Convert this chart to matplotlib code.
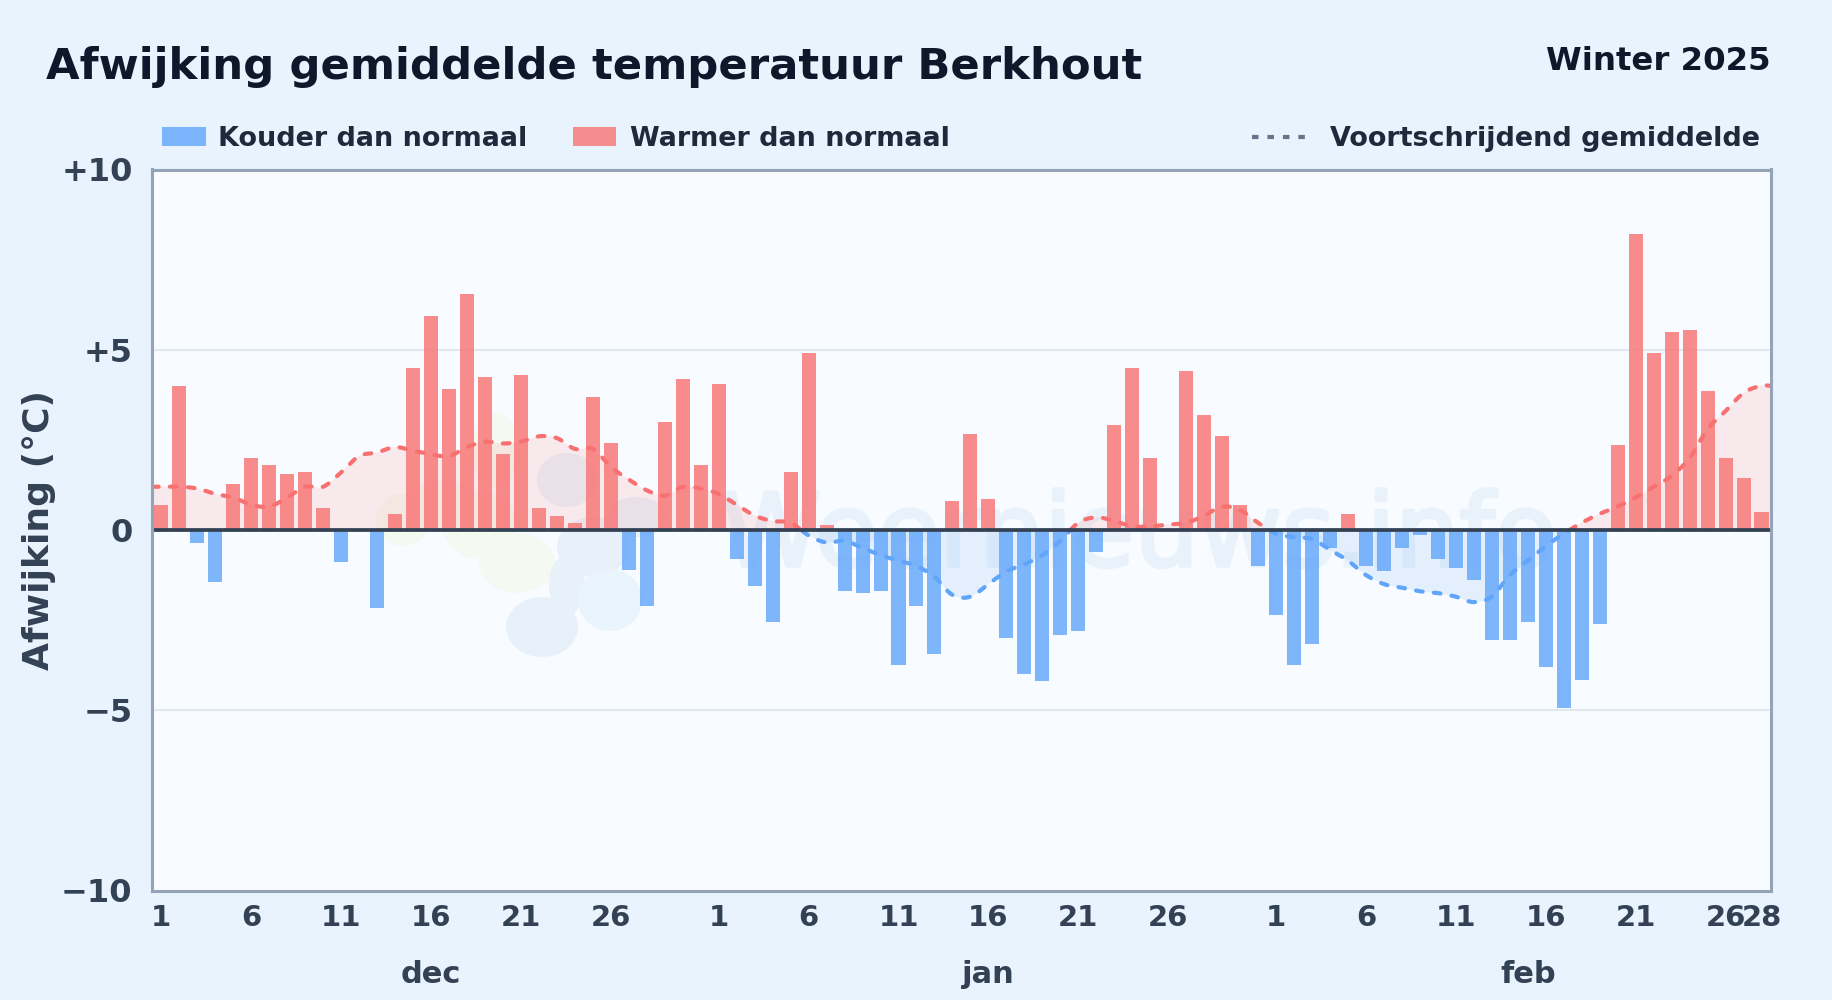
import matplotlib
matplotlib.use("Agg")
import matplotlib.pyplot as plt
import matplotlib.patheffects as pe
import numpy as np
from matplotlib.patches import Ellipse, Rectangle

W, H = 1832, 1000

# afwijking per dag, dec t/m feb
dec_values = [0.7, 4.0, -0.35, -1.45, 1.27, 2.0, 1.8, 1.55, 1.6, 0.6, -0.9, 0, -2.15, 0.45, 4.5, 5.95,
              3.9, 6.55, 4.25, 2.1, 4.3, 0.6, 0.4, 0.2, 3.7, 2.4, -1.1, -2.1, 3.0, 4.2, 1.8]
jan_values = [4.05, -0.8, -1.55, -2.55, 1.6, 4.9, 0.15, -1.7, -1.75, -1.7, -3.75, -2.1, -3.45, 0.8, 2.65, 0.85,
              -3.0, -4.0, -4.2, -2.9, -2.8, -0.6, 2.9, 4.5, 2.0, 0, 4.4, 3.2, 2.6, 0.7, -1.0]
feb_values = [-2.35, -3.75, -3.15, -0.5, 0.45, -1.0, -1.15, -0.5, -0.15, -0.8, -1.05, -1.4, -3.05, -3.05,
              -2.55, -3.8, -4.95, -4.15, -2.6, 2.35, 8.2, 4.9, 5.5, 5.55, 3.85, 2.0, 1.45, 0.5]

# voortschrijdend gemiddelde
dec_rolling = [1.2, 1.2, 1.15, 1.0, 0.9, 0.7, 0.65, 0.9, 1.2, 1.2, 1.6, 2.05, 2.15, 2.3, 2.2, 2.1,
               2.05, 2.3, 2.45, 2.4, 2.45, 2.6, 2.55, 2.25, 2.25, 1.75, 1.4, 1.1, 0.95, 1.2, 1.15]
jan_rolling = [1.0, 0.7, 0.4, 0.25, 0.2, -0.15, -0.35, -0.3, -0.5, -0.7, -0.85, -1.0, -1.3, -1.8, -1.85, -1.5,
               -1.15, -0.95, -0.7, -0.3, 0.2, 0.35, 0.25, 0.1, 0.1, 0.15, 0.2, 0.4, 0.65, 0.55, 0.2]
feb_rolling = [-0.1, -0.2, -0.25, -0.55, -0.85, -1.25, -1.5, -1.6, -1.7, -1.75, -1.85, -2.0, -1.85, -1.25,
               -0.85, -0.45, -0.1, 0.2, 0.45, 0.65, 0.9, 1.2, 1.5, 2.0, 2.8, 3.3, 3.8, 4.0]

day_labels = ["1", "6", "11", "16", "21", "26"]
month_names = ["dec", "jan", "feb"]
month_lengths = [31, 31, 28]

BG = "#e8f3fd"
PLOT_BG = "#f8fbff"
RED = "#f87171"
BLUE = "#60a5fa"
FONT = "DejaVu Sans"


def fx(x):
    return x / W


def fy(y):
    return 1 - y / H


def smooth(xs, ys, steps=12):
    # catmull-rom, alleen voor de weergave van de lijn
    xs = np.asarray(xs, float)
    ys = np.asarray(ys, float)
    out_x, out_y = [], []
    for i in range(len(xs) - 1):
        p0 = ys[max(i - 1, 0)]
        p1 = ys[i]
        p2 = ys[i + 1]
        p3 = ys[min(i + 2, len(ys) - 1)]
        t = np.linspace(0, 1, steps, endpoint=False)
        out_y.append(0.5 * (2 * p1 + (p2 - p0) * t + (2 * p0 - 5 * p1 + 4 * p2 - p3) * t ** 2
                            + (3 * p1 - p0 - 3 * p2 + p3) * t ** 3))
        out_x.append(xs[i] + (xs[i + 1] - xs[i]) * t)
    out_x.append(xs[-1:])
    out_y.append(ys[-1:])
    return np.concatenate(out_x), np.concatenate(out_y)


values = np.array(dec_values + jan_values + feb_values)
rolling = np.array(dec_rolling + jan_rolling + feb_rolling)
days = np.arange(len(values))

fig = plt.figure(figsize=(W / 100, H / 100), dpi=100, facecolor=BG)
ax = fig.add_axes([fx(152), fy(890.5), fx(1770.5 - 152), (890.5 - 169.5) / H], facecolor=PLOT_BG)

xlim = (-0.52, 89.5)
ax.set_xlim(xlim)
ax.set_ylim(-10, 10)

# watermerk
GREEN_WM = "#f4f9f2"
BLUE_WM = "#e8f1f9"
blobs = [
    (403, 520, 27, 26, GREEN_WM),
    (445, 505, 40, 24, GREEN_WM),
    (495, 450, 24, 38, GREEN_WM),
    (480, 525, 38, 34, GREEN_WM),
    (517, 563, 38, 30, GREEN_WM),
    (567, 480, 30, 27, BLUE_WM),
    (593, 547, 36, 30, BLUE_WM),
    (637, 517, 30, 20, BLUE_WM),
    (567, 585, 18, 30, BLUE_WM),
    (542, 627, 36, 30, BLUE_WM),
    (610, 600, 32, 31, "#e9f4fd"),
]
for bx, by, rx, ry, col in blobs:
    ax.add_patch(Ellipse((fx(bx), fy(by)), 2 * rx / W, 2 * ry / H, transform=fig.transFigure,
                         facecolor=col, edgecolor="none", zorder=0.5))
ax.text(fx(1139), fy(566), "Weernieuws.info", fontsize=73, color="#e9f2fb", ha="center", va="baseline",
        family=FONT, zorder=0.6, transform=fig.transFigure,
        path_effects=[pe.withStroke(linewidth=2.5, foreground="#e9f2fb")])
ax.patch.set_zorder(0)
ax.set_axisbelow(True)
ax.grid(axis="y", color="#e2e8f0", linewidth=1.5, zorder=1)

# schaduw en lijn, gesplitst op het teken
line_x = np.concatenate([[xlim[0]], days, [xlim[1]]])
line_y = np.concatenate([[rolling[0]], rolling, [rolling[-1]]])
sx, sy = smooth(line_x, line_y)
ax.fill_between(sx, 0, sy, where=sy >= 0, interpolate=True, color=RED, alpha=0.13, linewidth=0, zorder=2)
ax.fill_between(sx, 0, sy, where=sy <= 0, interpolate=True, color=BLUE, alpha=0.13, linewidth=0, zorder=2)
for col, mask in ((RED, sy >= 0), (BLUE, sy <= 0)):
    ax.plot(sx, np.where(mask, sy, np.nan), color=col, linewidth=3, dashes=(1.6, 2.7),
            dash_capstyle="round", zorder=3)

bar_colors = [RED if v >= 0 else BLUE for v in values]
ax.bar(days, values, width=0.78, color=bar_colors, alpha=0.8, linewidth=0, zorder=4)
ax.axhline(0, color="#334155", linewidth=2.7, zorder=5)

for spine in ax.spines.values():
    spine.set_color("#94a3b8")
    spine.set_linewidth(2.2)
    spine.set_zorder(6)

# assen
yticks = [-10, -5, 0, 5, 10]
ax.set_yticks(yticks)
ax.set_yticklabels(["\u221210", "\u22125", "0", "+5", "+10"], fontsize=23, fontweight="bold",
                   color="#334155", family=FONT)
ax.tick_params(axis="y", length=0, pad=14)

tick_pos, tick_lab = [], []
start = 0
for length in month_lengths:
    for lab in day_labels:
        tick_pos.append(start + int(lab) - 1)
        tick_lab.append(lab)
    start += length
tick_pos.append(len(values) - 1)
tick_lab.append(str(month_lengths[-1]))
ax.set_xticks(tick_pos)
ax.set_xticklabels(tick_lab, fontsize=21, fontweight="bold", color="#334155", family=FONT)
ax.tick_params(axis="x", length=0, pad=9.5)

start = 0
for name, length in zip(month_names, month_lengths):
    ax.text(start + length // 2, -0.116, name, transform=ax.get_xaxis_transform(), ha="center",
            va="center", fontsize=22, fontweight="bold", color="#334155", family=FONT)
    start += length

fig.text(fx(39), fy(530), "Afwijking (\u00b0C)", rotation=90, ha="center", va="center", fontsize=26,
         fontweight="bold", color="#334155", family=FONT)

# titel
fig.text(fx(46), fy(79.5), "Afwijking gemiddelde temperatuur Berkhout", ha="left", va="baseline", fontsize=31.2,
         fontweight="bold", color="#0f172a", family=FONT)
fig.text(fx(1771), fy(62), "Winter 2025", ha="right", va="center", fontsize=23.3, fontweight="bold",
         color="#0f172a", family=FONT)

# legenda
for x0, x1, col, label, tx in ((162, 206, BLUE, "Kouder dan normaal", 218.5),
                               (573, 616, RED, "Warmer dan normaal", 630)):
    fig.add_artist(Rectangle((fx(x0), fy(146)), (x1 - x0) / W, 19 / H, transform=fig.transFigure,
                             facecolor=col, alpha=0.8, edgecolor="none"))
    fig.text(fx(tx), fy(139), label, ha="left", va="center", fontsize=19.45, fontweight="bold",
             color="#1e293b", family=FONT)
fig.add_artist(plt.Line2D([fx(1251.5), fx(1307)], [fy(136.5), fy(136.5)], transform=fig.transFigure,
                          color="#64748b", linewidth=3, dashes=(1.56, 2.15), dash_capstyle="butt"))
fig.text(fx(1330), fy(139), "Voortschrijdend gemiddelde", ha="left", va="center", fontsize=19.45,
         fontweight="bold", color="#1e293b", family=FONT)

fig.savefig("out.png", dpi=100, facecolor=BG)
